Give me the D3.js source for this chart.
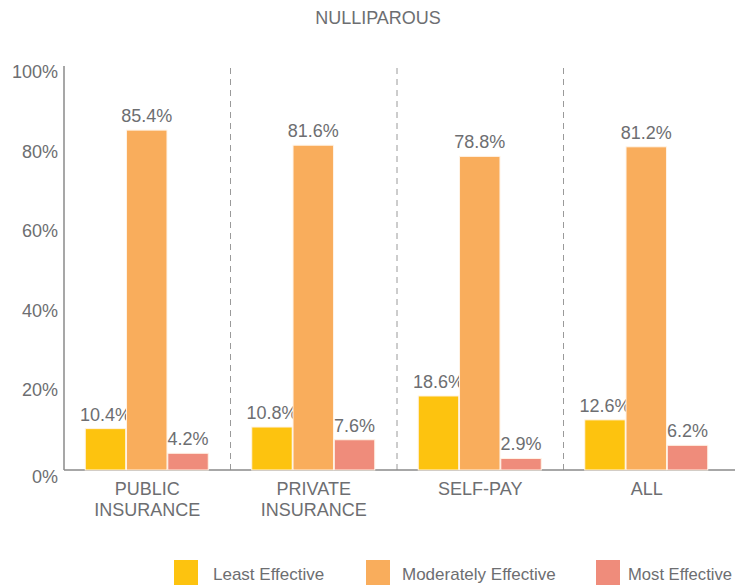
<!DOCTYPE html>
<html><head><meta charset="utf-8">
<script src="https://cdn.jsdelivr.net/npm/d3@7"></script>
<style>body{margin:0;background:#fff;overflow:hidden}svg{display:block}text{font-family:"Liberation Sans Narrow","Arial Narrow","Liberation Sans",sans-serif;fill:#6d6e71}</style>
</head><body><svg id="c" width="735" height="587"></svg>
<script>
const categories = [["PUBLIC","INSURANCE"],["PRIVATE","INSURANCE"],["SELF-PAY"],["ALL"]];
const seriesNames = ["Least Effective","Moderately Effective","Most Effective"];
const leastEffective = [10.4, 10.8, 18.6, 12.6];
const moderatelyEffective = [85.4, 81.6, 78.8, 81.2];
const mostEffective = [4.2, 7.6, 2.9, 6.2];
const yTicks = [0,20,40,60,80,100];
const colors = ["#FDC30F","#F9AD5C","#EF8C7B"];
const title = "NULLIPAROUS";

(function(){
const series = [leastEffective, moderatelyEffective, mostEffective];
const svg = d3.select("#c");
const mLeft = 64, mRight = 730, mTop = 72, mBottom = 470;
const x0 = d3.scaleBand().domain(d3.range(categories.length)).range([mLeft, mRight]);
const x1 = d3.scaleBand().domain(d3.range(series.length)).range([0, 123]).paddingInner(0.02);
const y = d3.scaleLinear().domain([0,100]).range([mBottom, mTop]);

svg.append("text").attr("x",378).attr("y",24).attr("text-anchor","middle").attr("font-size",18).text(title);

for (let i=1;i<categories.length;i++){
  const xv = x0(i);
  svg.append("line").attr("x1",xv).attr("x2",xv).attr("y1",68).attr("y2",mBottom)
    .attr("stroke","#9a9a9a").attr("stroke-width",1).attr("stroke-dasharray","6,5");
}
svg.append("line").attr("x1",mLeft).attr("x2",mLeft).attr("y1",66).attr("y2",mBottom).attr("stroke","#8a8a8a").attr("stroke-width",1.5);
svg.append("line").attr("x1",mLeft).attr("x2",735).attr("y1",mBottom).attr("y2",mBottom).attr("stroke","#8a8a8a").attr("stroke-width",1.5);
svg.selectAll(".yt").data(yTicks).enter().append("text")
  .attr("x",58).attr("y",d=>y(d)+ (d===0?13:6)).attr("text-anchor","end").attr("font-size",18).text(d=>d+"%");

const g = svg.selectAll(".grp").data(categories).enter().append("g")
  .attr("transform",(d,i)=>`translate(${x0(i)+x0.bandwidth()/2-62},0)`);
series.forEach((s,si)=>{
  g.append("rect").attr("x",x1(si)).attr("width",x1.bandwidth())
    .attr("y",(d,i)=>y(s[i])).attr("height",(d,i)=>mBottom-y(s[i]))
    .attr("fill",colors[si]).attr("stroke","#fff3e6").attr("stroke-width",1);
  g.append("text").attr("x",x1(si)+x1.bandwidth()/2).attr("y",(d,i)=>y(s[i])-8)
    .attr("text-anchor","middle").attr("font-size",18).text((d,i)=>s[i].toFixed(1)+"%");
});
g.each(function(lines){
  const t = d3.select(this).append("text").attr("text-anchor","middle").attr("font-size",18);
  lines.forEach((l,k)=>t.append("tspan").attr("x",62).attr("y",495+k*21).text(l));
});

const legSq = [174, 366, 596];
const legTx = [213, 402, 628];
seriesNames.forEach((n,i)=>{
  svg.append("rect").attr("x",legSq[i]).attr("y",560).attr("width",24).attr("height",25).attr("fill",colors[i]);
  svg.append("text").attr("x",legTx[i]).attr("y",580).attr("font-size",17)
    .attr("textLength", i===2 ? 104 : null).attr("lengthAdjust","spacingAndGlyphs").text(n);
});
})();
</script></body></html>
